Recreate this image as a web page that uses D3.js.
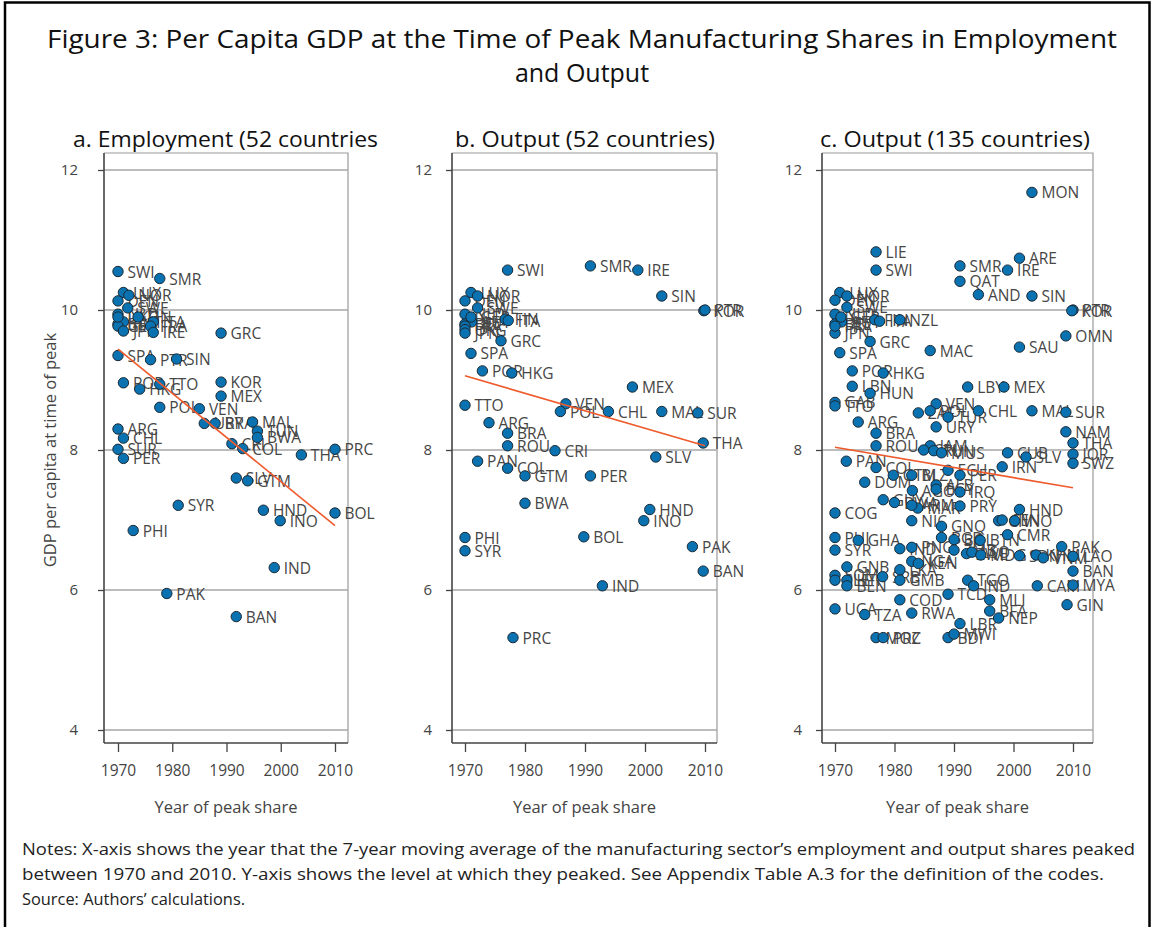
<!DOCTYPE html>
<html>
<head>
<meta charset="utf-8">
<script src="https://cdn.jsdelivr.net/npm/d3@7"></script>
<style>
  html, body { margin: 0; padding: 0; background: #fff; }
  svg { display: block; }
</style>
</head>
<body>
<svg id="chart" width="1153" height="927"></svg>
<script>
// ---- axis ticks ----
const yTicks = [4, 6, 8, 10, 12];
const xTicks = [1970, 1980, 1990, 2000, 2010];

// ---- panel a: employment peaks (52 countries) ----
const empCodes = ["SWI","SMR","LUX","NOR","DEN","SWE","NLD","BEL","AUT","FIN","ITA","FRA","GER","UKG","JPN","IRE",
  "GRC","SPA","PTR","SIN","POR","TTO","HKG","KOR","MEX","POL","VEN","URY","BRA","MAL","TUN","BWA","CRI","COL",
  "ARG","CHL","SUR","PER","THA","PRC","SLV","GTM","SYR","HND","BOL","INO","PHI","IND","PAK","BAN"];
const empYear = [1970,1977.7,1971,1972,1970,1971.8,1970,1970,1971,1973.7,1976.5,1976,1970,1970,1971,1976.5,
  1989,1970,1976,1980.8,1971,1977.7,1974,1989,1989,1977.7,1985,1985.9,1987.9,1994.8,1995.7,1995.7,1991,1993,
  1970,1971,1970,1971,2003.8,2010,1991.8,1993.9,1981.1,1996.8,2010,1999.9,1972.8,1998.8,1979,1991.8];
const empGdp = [10.55,10.45,10.25,10.21,10.13,10.03,9.94,9.80,9.83,9.90,9.83,9.77,9.77,9.90,9.70,9.68,
  9.67,9.35,9.29,9.30,8.96,8.94,8.87,8.97,8.77,8.61,8.59,8.38,8.38,8.40,8.27,8.18,8.09,8.02,
  8.30,8.17,8.01,7.88,7.93,8.01,7.60,7.56,7.21,7.14,7.10,6.99,6.85,6.32,5.95,5.62];
const empFit = [9.44, 6.92];

// ---- panel b: output peaks (52 countries) ----
const outCodes = ["SWI","SMR","IRE","SIN","KOR","PTR","LUX","NOR","DEN","SWE","NLD","BEL","AUT","FIN","ITA","FRA",
  "GER","UKG","JPN","GRC","SPA","POR","HKG","MEX","TTO","VEN","POL","CHL","MAL","SUR","THA","ARG","BRA","ROU",
  "CRI","PAN","COL","GTM","PER","SLV","BWA","HND","INO","BOL","PHI","SYR","PAK","BAN","IND","PRC"];
const outYear = [1977.1,1990.9,1998.8,2002.8,2009.8,2010,1971,1972.1,1970,1972.1,1970,1970,1971.1,1976.7,1977.2,1970,
  1971,1970,1970,1976,1971,1972.9,1977.8,1997.9,1970,1986.8,1985.9,1993.9,2002.8,2008.8,2009.7,1974,1977.1,1977.1,
  1985,1972.1,1977.1,1980,1990.9,2001.8,1980,2000.8,1999.8,1989.8,1970,1970,2007.9,2009.7,1992.9,1978];
const outGdp = [10.57,10.63,10.57,10.20,9.99,10.0,10.25,10.20,10.13,10.03,9.94,9.80,9.83,9.87,9.85,9.77,
  9.90,9.72,9.67,9.56,9.38,9.13,9.10,8.90,8.64,8.66,8.55,8.55,8.55,8.53,8.10,8.39,8.24,8.06,
  7.99,7.84,7.74,7.63,7.63,7.90,7.24,7.15,6.99,6.76,6.75,6.56,6.62,6.27,6.06,5.32];
const outFit = [9.06, 8.06];

// ---- panel c: output peaks (135 countries) ----
const allCodes = ["MON","LIE","SWI","SMR","IRE","ARE","QAT","AND","SIN","PTR","KOR","LUX","NOR","DEN","SWE","NLD",
  "BEL","AUT","FIN","ITA","NZL","JPN","FRA","GER","GRC","SPA","MAC","SAU","OMN","POR","HKG","LBN","HUN","LBY",
  "MEX","GAB","TTO","VEN","ZAF","POL","TUR","CHL","MAL","SUR","URY","ARG","BRA","ROU","JAM","CRI","TUN","MUS",
  "CUB","SLV","NAM","THA","JOR","SWZ","PAN","COL","IRN","ECU","PER","GTM","BLZ","DOM","ALB","AGO","EGY","IRQ",
  "GUY","BWA","MAR","ARM","PRY","HND","COG","NIC","GNQ","CIV","INO","SEN","BGD","BOL","CMR","BTN","PHI","GHA",
  "SYR","PAK","IND","PNG","ZMB","ZWE","LSO","MDG","SDN","KHM","VNM","LAO","BAN","CAM","MYA","GIN","NGA","KEN",
  "GNB","LKA","SRB","GMB","SOM","SLE","HTI","BEN","TGO","IND2","TCD","MLI","BFA","NEP","COD","UGA","TZA","RWA",
  "LBR","BDI","MWI","MOZ","PRC"];
const allYear = [2003.1,1976.9,1976.9,1991,1999,2001,1991,1994.1,2003.1,2010,2009.8,1970.8,1972,1970,1972,1970,
  1970,1971.1,1976.7,1977.5,1980.9,1970,1970,1971,1975.9,1970.8,1986,2001,2008.8,1972.9,1978.1,1972.9,1975.9,1992.3,
  1998.4,1970,1970,1987,1984,1986,1989,1994.1,2003.1,2008.8,1987,1973.9,1976.9,1976.9,1986,1984.9,1986.6,1987.9,
  1999,2002.1,2008.8,2010,2010,2010,1971.9,1976.9,1998.1,1989,1991,1979.8,1982.9,1975,1987,1983,1987,1991,
  1978.1,1980,1983.9,1982.9,1991,2001,1970,1982.9,1987.9,1997.5,2000.2,1998.1,1987.9,1990,1999,1994.4,1970,1973.9,
  1970,2008.1,1980.9,1982.9,1990,1992.1,1993,1994.5,2001,2003.8,2005,2010,2010,2004,2010,2009,1982.9,1984,
  1972,1980.9,1978,1980.9,1970,1970,1972,1972,1992.3,1993.3,1989,1996,1996,1997.5,1980.9,1970,1975,1982.9,
  1991,1989,1990,1976.9,1978.1];
const allGdp = [11.68,10.83,10.57,10.63,10.57,10.74,10.41,10.22,10.20,10.0,9.99,10.25,10.20,10.14,10.04,9.94,
  9.80,9.83,9.86,9.84,9.86,9.67,9.77,9.90,9.55,9.39,9.42,9.47,9.63,9.13,9.10,8.91,8.81,8.90,
  8.90,8.68,8.63,8.66,8.53,8.56,8.47,8.56,8.56,8.54,8.33,8.40,8.24,8.06,8.06,8.00,7.99,7.96,
  7.96,7.90,8.26,8.10,7.94,7.81,7.84,7.75,7.76,7.71,7.64,7.64,7.64,7.54,7.50,7.42,7.44,7.40,
  7.29,7.25,7.17,7.21,7.20,7.15,7.10,6.99,6.91,6.99,6.99,7.00,6.75,6.72,6.79,6.71,6.75,6.71,
  6.57,6.62,6.59,6.61,6.57,6.52,6.54,6.50,6.49,6.50,6.46,6.48,6.27,6.06,6.07,5.79,6.41,6.38,
  6.33,6.29,6.19,6.14,6.21,6.14,6.14,6.06,6.14,6.06,5.94,5.86,5.70,5.60,5.86,5.73,5.65,5.67,
  5.52,5.32,5.37,5.32,5.32];
const allFit = [8.04, 7.46];

const panelTitles = ["a. Employment (52 countries", "b. Output (52 countries)", "c. Output (135 countries)"];
const titleLines = ["Figure 3: Per Capita GDP at the Time of Peak Manufacturing Shares in Employment", "and Output"];
const noteLines = [
  "Notes: X-axis shows the year that the 7-year moving average of the manufacturing sector\u2019s employment and output shares peaked",
  "between 1970 and 2010.  Y-axis shows the level at which they peaked. See Appendix Table A.3 for the definition of the codes.",
  "Source: Authors\u2019 calculations."
];

const FONT = "'Open Sans', Lato, sans-serif";
const svg = d3.select("#chart");

// outer figure frame
svg.append("path")
  .attr("d", "M5,927 V2.5 H1149.5 V927")
  .attr("fill", "none").attr("stroke", "#000").attr("stroke-width", 2.5);

// figure title
svg.selectAll("text.title").data(titleLines).join("text")
  .attr("class", "title")
  .attr("x", 582).attr("y", (d, i) => 48 + i * 34)
  .attr("text-anchor", "middle")
  .attr("font-family", FONT).attr("font-size", 25).attr("fill", "#111")
  .each(function (d, i) { if (i === 0) d3.select(this).attr("textLength", 1070).attr("lengthAdjust", "spacingAndGlyphs"); })
  .text(d => d);

// shared vertical scale
const y = d3.scaleLinear().domain([4, 12]).range([730, 170]);
const frameTop = 153, frameBottom = 743;

const panels = [
  { title: panelTitles[0], titleX: 73, titleW: 305, left: 104, right: 348, x0: 118, x1: 335, yPad: 20,
    codes: empCodes, years: empYear, gdp: empGdp, fit: empFit },
  { title: panelTitles[1], titleX: 455, titleW: 260, left: 452, right: 717, x0: 465, x1: 705, yPad: 14,
    codes: outCodes, years: outYear, gdp: outGdp, fit: outFit },
  { title: panelTitles[2], titleX: 820, titleW: 270, left: 822, right: 1093, x0: 835, x1: 1073, yPad: 14,
    codes: allCodes, years: allYear, gdp: allGdp, fit: allFit }
];

panels.forEach(p => {
  const x = d3.scaleLinear().domain([1970, 2010]).range([p.x0, p.x1]);
  const g = svg.append("g");

  // panel heading
  g.append("text")
    .attr("x", p.titleX).attr("y", 147)
    .attr("font-family", FONT).attr("font-size", 21).attr("fill", "#111")
    .attr("textLength", p.titleW).attr("lengthAdjust", "spacingAndGlyphs")
    .text(p.title);

  // light frame on top and right
  g.append("path")
    .attr("d", `M${p.left},${frameTop} H${p.right} V${frameBottom}`)
    .attr("fill", "none").attr("stroke", "#9a9a9a").attr("stroke-width", 1.2);

  // horizontal grid lines
  g.selectAll("line.grid").data(yTicks).join("line")
    .attr("class", "grid")
    .attr("x1", p.left).attr("x2", p.right)
    .attr("y1", d => y(d)).attr("y2", d => y(d))
    .attr("stroke", "#a6a6a6").attr("stroke-width", 1.5);

  // y axis
  const yAxis = g.append("g").attr("transform", `translate(${p.left},0)`)
    .call(d3.axisLeft(y).tickValues(yTicks).tickSize(6).tickPadding(p.yPad).tickFormat(d3.format("d")));
  yAxis.select(".domain").attr("d", `M0,${frameTop}V${frameBottom}`).attr("stroke", "#444").attr("stroke-width", 1.6);
  yAxis.selectAll(".tick line").attr("stroke", "#444").attr("stroke-width", 1.3);
  yAxis.selectAll(".tick text").attr("font-family", FONT).attr("font-size", 15).attr("fill", "#444");

  // x axis
  const xAxis = g.append("g").attr("transform", `translate(0,${frameBottom})`)
    .call(d3.axisBottom(x).tickValues(xTicks).tickSize(9).tickPadding(13).tickFormat(d3.format("d")));
  xAxis.select(".domain").attr("d", `M${p.left},0H${p.right}`).attr("stroke", "#444").attr("stroke-width", 1.6);
  xAxis.selectAll(".tick line").attr("stroke", "#444").attr("stroke-width", 1.3);
  xAxis.selectAll(".tick text").attr("font-family", FONT).attr("font-size", 15.5).attr("fill", "#444");

  // x axis title
  g.append("text")
    .attr("x", (p.left + p.right) / 2).attr("y", 813)
    .attr("text-anchor", "middle")
    .attr("font-family", FONT).attr("font-size", 16.5).attr("fill", "#444")
    .text("Year of peak share");

  const pts = p.codes.map((c, i) => ({ code: c.replace(/\d+$/, ""), year: p.years[i], gdp: p.gdp[i] }));

  // country code labels
  g.selectAll("text.lab").data(pts).join("text")
    .attr("class", "lab")
    .attr("x", d => x(d.year) + 9.5).attr("y", d => y(d.gdp) + 6)
    .attr("font-family", FONT).attr("font-size", 15.5).attr("fill", "#464646")
    .text(d => d.code);

  // markers
  g.selectAll("circle").data(pts).join("circle")
    .attr("cx", d => x(d.year)).attr("cy", d => y(d.gdp)).attr("r", 5.2)
    .attr("fill", "#0a72b0").attr("stroke", "#1b2a35").attr("stroke-width", 1);

  // fitted line
  g.append("line")
    .attr("x1", x(1970)).attr("y1", y(p.fit[0]))
    .attr("x2", x(2010)).attr("y2", y(p.fit[1]))
    .attr("stroke", "#ee5a2c").attr("stroke-width", 1.6);
});

// y axis title
svg.append("text")
  .attr("transform", "translate(56,450) rotate(-90)")
  .attr("text-anchor", "middle")
  .attr("font-family", FONT).attr("font-size", 16.5).attr("fill", "#444")
  .text("GDP per capita at time of peak");

// notes
svg.selectAll("text.note").data(noteLines).join("text")
  .attr("class", "note")
  .attr("x", 22).attr("y", (d, i) => 855 + i * 25)
  .attr("font-family", FONT).attr("font-size", 16.5).attr("fill", "#222")
  .each(function (d, i) {
    const w = [1113, 1082, 223][i];
    d3.select(this).attr("textLength", w).attr("lengthAdjust", "spacingAndGlyphs");
  })
  .text(d => d);
</script>
</body>
</html>
